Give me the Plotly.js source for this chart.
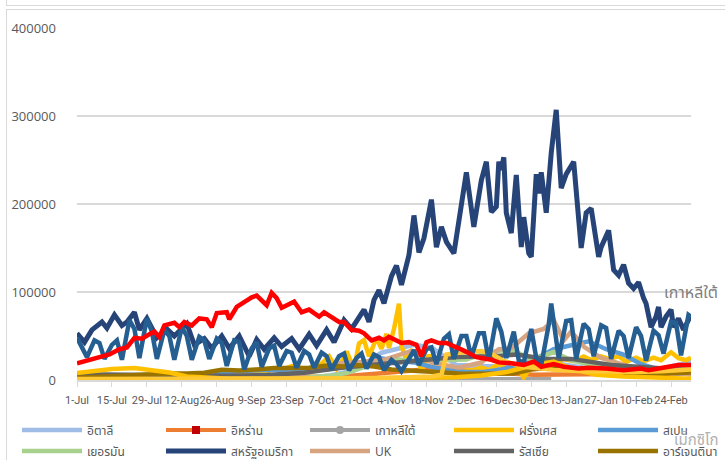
<!DOCTYPE html>
<html>
<head>
<meta charset="utf-8">
<script src="https://cdn.plot.ly/plotly-3.0.1.min.js"></script>
<style>
  html, body { margin:0; padding:0; background:#fff; overflow:hidden; }
  #wrap { position:relative; width:725px; height:460px; }
  #chart { position:absolute; left:0; top:0; width:725px; height:460px; }
  .frame { position:absolute; border:1.5px solid #D9D9D9; pointer-events:none; z-index:5; }
</style>
</head>
<body>
<div id="wrap">
  <div id="chart"></div>
  <div class="frame" style="left:6px; top:-20px; width:800px; height:24px;"></div>
  <div class="frame" style="left:6px; top:9px; width:800px; height:500px;"></div>
</div>
<script>
// ---------- DATA ----------
const itDates = ["2020-07-01","2020-08-15","2020-09-01","2020-09-30","2020-10-10","2020-10-20","2020-10-31","2020-11-13","2020-11-20","2020-11-30","2020-12-10","2020-12-20","2020-12-31","2021-01-08","2021-01-20","2021-01-31","2021-02-15","2021-02-28","2021-03-04"];
const itCases = [200,600,1400,1800,5000,11000,31000,40000,37000,17000,16000,15000,23000,19000,14000,12000,10000,18000,22000];

const irDates = ["2020-07-01","2020-07-31","2020-08-31","2020-09-30","2020-10-15","2020-10-31","2020-11-15","2020-11-25","2020-12-05","2020-12-15","2020-12-31","2021-01-15","2021-01-31","2021-02-15","2021-02-28","2021-03-04"];
const irCases = [2500,2600,1900,3600,4000,7800,12000,13800,11500,8000,6100,6200,6600,7600,7600,7600];

const krDates = ["2020-07-01","2020-07-31","2020-08-15","2020-08-27","2020-09-10","2020-09-30","2020-10-15","2020-10-31","2020-11-15","2020-11-25","2020-12-05","2020-12-13","2020-12-25","2021-01-03","2021-01-07"];
const krCases = [50,40,170,440,170,110,100,130,220,580,580,1030,1240,1020,870];

const frDates = ["2020-07-01","2020-07-10","2020-07-20","2020-07-31","2020-08-07","2020-08-14","2020-08-21","2020-08-28","2020-09-04","2020-09-06","2020-09-11","2020-09-13","2020-09-18","2020-09-20","2020-09-25","2020-10-02","2020-10-07","2020-10-10","2020-10-13","2020-10-16","2020-10-17","2020-10-20","2020-10-22","2020-10-24","2020-10-26","2020-10-29","2020-10-31","2020-11-02","2020-11-03","2020-11-05","2020-11-07","2020-11-08","2020-11-10","2020-11-12","2020-11-14","2020-11-16","2020-11-19","2020-11-21","2020-11-24","2020-11-27","2020-11-30","2020-12-03","2020-12-06","2020-12-10","2020-12-13","2020-12-17","2020-12-20","2020-12-24","2020-12-27","2020-12-31","2021-01-05","2021-01-08","2021-01-12","2021-01-16","2021-01-20","2021-01-23","2021-01-27","2021-01-30","2021-02-03","2021-02-06","2021-02-10","2021-02-13","2021-02-17","2021-02-20","2021-02-24","2021-02-27","2021-03-02","2021-03-04"];
const frCases = [600,700,900,1300,2300,2700,4600,7300,8900,7000,9800,7100,13200,10500,15800,12000,18700,26900,12900,25000,32400,13200,41600,45400,26800,47600,35600,52500,36400,58000,86800,38600,22200,33200,32100,9400,28400,17900,9100,13600,4000,11200,11000,14000,11500,18000,12700,15800,3100,20000,20000,20800,23800,21400,26800,22800,26900,24100,27000,20600,25400,21200,25400,22400,31500,24900,22600,25300];

const esDates = ["2020-07-01","2020-07-15","2020-07-31","2020-08-14","2020-08-28","2020-09-11","2020-09-25","2020-10-09","2020-10-23","2020-10-30","2020-11-06","2020-11-13","2020-11-20","2020-11-27","2020-12-04","2020-12-11","2020-12-18","2020-12-29","2021-01-08","2021-01-15","2021-01-22","2021-01-29","2021-02-05","2021-02-12","2021-02-19","2021-02-26","2021-03-04"];
const esCases = [1000,2000,4000,6000,9000,11000,12000,12000,18000,25000,22000,20000,15000,11000,9000,9000,12000,20000,35000,40000,44000,35000,29000,18000,12000,8000,7000];

const deDates = ["2020-07-01","2020-07-31","2020-08-15","2020-08-31","2020-09-15","2020-09-30","2020-10-10","2020-10-17","2020-10-24","2020-10-30","2020-11-06","2020-11-13","2020-11-20","2020-11-27","2020-12-04","2020-12-11","2020-12-18","2020-12-24","2020-12-30","2021-01-08","2021-01-15","2021-01-22","2021-01-29","2021-02-05","2021-02-12","2021-02-19","2021-02-26","2021-03-04"];
const deCases = [500,900,1400,1200,1900,2500,4700,7800,14700,19000,23500,22000,23600,22800,23400,29900,33800,32200,22500,31800,22400,17900,14000,12900,10200,9100,11800,11900];

const usDates = ["2020-07-01","2020-07-04","2020-07-07","2020-07-11","2020-07-13","2020-07-16","2020-07-19","2020-07-21","2020-07-24","2020-07-26","2020-07-29","2020-08-02","2020-08-06","2020-08-09","2020-08-14","2020-08-17","2020-08-21","2020-08-24","2020-08-28","2020-08-31","2020-09-04","2020-09-08","2020-09-11","2020-09-14","2020-09-18","2020-09-21","2020-09-25","2020-09-28","2020-10-02","2020-10-05","2020-10-09","2020-10-12","2020-10-16","2020-10-19","2020-10-24","2020-10-26","2020-10-28","2020-10-30","2020-11-01","2020-11-04","2020-11-06","2020-11-08","2020-11-11","2020-11-13","2020-11-15","2020-11-17","2020-11-20","2020-11-22","2020-11-24","2020-11-26","2020-11-29","2020-12-04","2020-12-07","2020-12-10","2020-12-12","2020-12-14","2020-12-16","2020-12-17","2020-12-18","2020-12-19","2020-12-20","2020-12-22","2020-12-24","2020-12-26","2020-12-27","2020-12-29","2020-12-30","2021-01-01","2021-01-02","2021-01-03","2021-01-05","2021-01-07","2021-01-09","2021-01-11","2021-01-13","2021-01-14","2021-01-16","2021-01-19","2021-01-21","2021-01-23","2021-01-26","2021-01-27","2021-01-30","2021-02-01","2021-02-03","2021-02-05","2021-02-07","2021-02-09","2021-02-11","2021-02-13","2021-02-14","2021-02-16","2021-02-18","2021-02-19","2021-02-20","2021-02-22","2021-02-24","2021-02-25","2021-02-27","2021-03-01","2021-03-04"];
const usCases = [53000,43000,57000,66000,59000,74000,62000,66000,77000,57000,70000,48000,58000,50000,64000,40000,47000,36000,50000,36000,50000,27000,46000,35000,48000,38000,47000,35000,52000,39000,57000,43000,68000,58000,80000,66000,91000,102000,87000,118000,130000,108000,142000,187000,145000,161000,205000,151000,174000,157000,144000,236000,174000,227000,248000,191000,197000,248000,239000,253000,190000,167000,233000,151000,185000,144000,140000,234000,212000,236000,190000,258000,307000,218000,234000,239000,248000,150000,190000,195000,140000,151000,170000,125000,119000,131000,110000,104000,111000,93000,87000,60000,72000,83000,60000,72000,80000,60000,70000,57000,74000];

const ukDates = ["2020-07-01","2020-08-01","2020-09-01","2020-09-15","2020-09-30","2020-10-15","2020-10-31","2020-11-12","2020-11-20","2020-12-01","2020-12-10","2020-12-17","2020-12-22","2020-12-29","2020-12-31","2021-01-04","2021-01-08","2021-01-12","2021-01-15","2021-01-20","2021-01-27","2021-02-03","2021-02-10","2021-02-17","2021-02-24","2021-03-04"];
const ukCases = [700,1000,1500,3500,7000,19000,22000,33000,20000,14000,20000,35000,36000,53000,55000,58000,68000,45000,55000,38000,25000,19000,13000,12000,9000,6000];

const ruDates = ["2020-07-01","2020-07-31","2020-08-31","2020-09-15","2020-09-30","2020-10-15","2020-10-31","2020-11-15","2020-11-30","2020-12-15","2020-12-24","2021-01-05","2021-01-15","2021-01-31","2021-02-15","2021-03-04"];
const ruCases = [6600,5500,4900,5700,8200,14000,18000,22000,26000,27000,29000,24000,24000,17000,14000,11000];

const arDates = ["2020-07-01","2020-07-08","2020-07-15","2020-07-22","2020-07-31","2020-08-07","2020-08-14","2020-08-21","2020-08-28","2020-09-04","2020-09-11","2020-09-18","2020-09-25","2020-10-02","2020-10-09","2020-10-16","2020-10-21","2020-10-28","2020-11-04","2020-11-11","2020-11-18","2020-11-25","2020-12-02","2020-12-09","2020-12-16","2020-12-23","2020-12-30","2021-01-06","2021-01-13","2021-01-20","2021-01-27","2021-02-03","2021-02-10","2021-02-17","2021-02-24","2021-03-04"];
const arCases = [2600,3600,4200,5800,6000,7300,7400,8200,11700,10900,12000,13500,13700,14000,16400,15400,17100,15300,12000,11100,9400,8500,7000,7500,7100,7300,11800,13800,12900,10500,8800,7300,6300,6000,7800,8400];

// series drawn in the chart whose legend rows are cut off in the reference
const zaDates = ["2020-07-01","2020-07-08","2020-07-15","2020-07-24","2020-07-31","2020-08-07","2020-08-14","2020-08-21","2020-08-31","2020-09-30","2020-10-31","2020-11-30","2020-12-10","2020-12-20","2020-12-31","2021-01-08","2021-01-15","2021-01-25","2021-02-05","2021-02-20","2021-03-04"];
const zaCases = [8000,10000,12500,13500,11000,8500,4000,3000,1500,1000,1500,3000,5000,9000,17000,21000,13000,6000,4000,2000,1500];

const trDates = ["2020-07-01","2020-07-31","2020-08-31","2020-09-30","2020-10-31","2020-11-20","2020-11-24","2020-11-26","2020-12-01","2020-12-05","2020-12-10","2020-12-14","2020-12-18","2020-12-22","2020-12-27","2020-12-31","2021-01-08","2021-01-20","2021-01-31","2021-02-10","2021-02-20","2021-03-04"];
const trCases = [1200,1000,1500,1700,2400,4000,6000,29000,31000,32000,33000,30000,23000,19000,15000,14000,11500,10000,9000,9000,10000,12000];

const brDates = ["2020-07-01","2020-07-05","2020-07-08","2020-07-10","2020-07-12","2020-07-15","2020-07-17","2020-07-19","2020-07-22","2020-07-24","2020-07-26","2020-07-29","2020-07-31","2020-08-02","2020-08-05","2020-08-07","2020-08-09","2020-08-12","2020-08-14","2020-08-16","2020-08-19","2020-08-21","2020-08-23","2020-08-26","2020-08-28","2020-08-30","2020-09-02","2020-09-04","2020-09-06","2020-09-09","2020-09-11","2020-09-13","2020-09-16","2020-09-18","2020-09-20","2020-09-23","2020-09-25","2020-09-27","2020-09-30","2020-10-02","2020-10-04","2020-10-07","2020-10-09","2020-10-11","2020-10-14","2020-10-16","2020-10-18","2020-10-21","2020-10-23","2020-10-25","2020-10-28","2020-10-30","2020-11-01","2020-11-04","2020-11-06","2020-11-08","2020-11-11","2020-11-13","2020-11-15","2020-11-18","2020-11-20","2020-11-22","2020-11-25","2020-11-27","2020-11-29","2020-12-02","2020-12-04","2020-12-06","2020-12-09","2020-12-11","2020-12-13","2020-12-16","2020-12-18","2020-12-20","2020-12-23","2020-12-25","2020-12-27","2020-12-30","2021-01-01","2021-01-03","2021-01-06","2021-01-07","2021-01-10","2021-01-13","2021-01-15","2021-01-17","2021-01-20","2021-01-22","2021-01-24","2021-01-27","2021-01-29","2021-01-31","2021-02-03","2021-02-05","2021-02-07","2021-02-10","2021-02-12","2021-02-14","2021-02-17","2021-02-19","2021-02-21","2021-02-24","2021-02-26","2021-02-28","2021-03-03","2021-03-04"];
const brCases = [48000,26000,45000,42000,24000,40000,45000,23000,68000,58000,25000,70000,55000,24000,57000,50000,23000,60000,50000,23000,49000,45000,24000,47000,42000,16000,45000,43000,12000,36000,43000,15000,36000,39000,16000,33000,31000,14000,33000,29000,14000,31000,27000,12000,27000,30000,11000,25000,30000,13000,29000,26000,11000,23000,18000,10000,24000,34000,17000,35000,37000,18000,47000,52000,24000,50000,50000,26000,53000,53000,22000,70000,55000,25000,55000,22000,20000,58000,25000,17000,63000,87000,25000,67000,68000,24000,64000,58000,27000,62000,59000,24000,56000,50000,25000,60000,50000,22000,56000,51000,30000,66000,65000,28000,74000,72000];

const inDates = ["2020-07-01","2020-07-07","2020-07-11","2020-07-14","2020-07-18","2020-07-21","2020-07-24","2020-07-27","2020-07-30","2020-08-01","2020-08-03","2020-08-05","2020-08-09","2020-08-11","2020-08-13","2020-08-16","2020-08-19","2020-08-22","2020-08-24","2020-08-26","2020-08-30","2020-08-31","2020-09-03","2020-09-06","2020-09-09","2020-09-11","2020-09-13","2020-09-15","2020-09-17","2020-09-19","2020-09-21","2020-09-23","2020-09-26","2020-09-29","2020-10-02","2020-10-04","2020-10-06","2020-10-08","2020-10-11","2020-10-14","2020-10-16","2020-10-19","2020-10-22","2020-10-24","2020-10-27","2020-10-30","2020-11-01","2020-11-03","2020-11-06","2020-11-08","2020-11-11","2020-11-14","2020-11-16","2020-11-18","2020-11-20","2020-11-23","2020-11-26","2020-11-28","2020-12-01","2020-12-04","2020-12-08","2020-12-14","2020-12-17","2020-12-22","2020-12-27","2020-12-31","2021-01-03","2021-01-08","2021-01-12","2021-01-18","2021-01-22","2021-01-29","2021-02-05","2021-02-12","2021-02-15","2021-02-19","2021-02-24","2021-02-27","2021-03-04"];
const inCases = [19000,24000,27000,29000,35000,37000,48000,47000,52000,55000,49000,62000,65000,60000,66000,62000,70000,69000,60000,76000,77000,69000,83000,89000,94000,96000,91000,85000,99000,93000,82000,85000,89000,77000,80000,76000,72000,77000,72000,66000,66000,57000,56000,53000,45000,48000,45000,49000,45000,42000,43000,40000,27000,43000,45000,42000,42000,40000,36000,32000,26000,23000,20000,19000,17000,21000,15000,18000,15000,13000,14000,13000,11000,13000,11000,13000,16000,17000,17000];

// names, colours, tick labels
const names = ["อิตาลี","อิหร่าน","เกาหลีใต้","ฝรั่งเศส","สเปน","เยอรมัน","สหรัฐอเมริกา","UK","รัสเซีย","อาร์เจนตินา"];
const colors = ["#9FBCE6","#ED7D31","#A5A5A5","#FFC000","#5B9BD5","#A9D18E","#264478","#D6A481","#636363","#997300"];
const hiddenNames = ["แอฟริกาใต้","ตุรกี","บราซิล","อินเดีย"];
const hiddenColors = ["#FFC000","#FFC935","#255E91","#FF0000"];
const yTicks = [0,100000,200000,300000,400000];
const labelSK = "เกาหลีใต้";
const labelMX = "เม็กซิโก";

// ---------- BUILD ----------
const FONT = "'Noto Sans Thai', 'Noto Sans', 'Open Sans', sans-serif";
const TICKFONT = "Roboto, 'Open Sans', sans-serif";
const shownX = [itDates, irDates, krDates, frDates, esDates, deDates, usDates, ukDates, ruDates, arDates];
const shownY = [itCases, irCases, krCases, frCases, esCases, deCases, usCases, ukCases, ruCases, arCases];
const hidX = [zaDates, trDates, brDates, inDates];
const hidY = [zaCases, trCases, brCases, inCases];

const traces = [];
const legendKeys = names.map((n, i) => i === 0 ? 'legend' : 'legend' + (i + 1));
names.forEach((n, i) => {
  const hasMarker = (i === 1 || i === 2);
  traces.push({
    type: 'scatter', mode: 'lines', name: n,
    x: shownX[i], y: shownY[i],
    line: { color: colors[i], width: i === 6 ? 5 : 4.5 },
    showlegend: !hasMarker, legend: legendKeys[i], hoverinfo: 'skip'
  });
});
hiddenNames.forEach((n, i) => {
  traces.push({
    type: 'scatter', mode: 'lines', name: n,
    x: hidX[i], y: hidY[i],
    line: { color: hiddenColors[i], width: 4.5 },
    showlegend: false, hoverinfo: 'skip'
  });
});
// legend-only entries for the two series whose legend shows a marker
[1, 2].forEach(i => {
  traces.push({
    type: 'scatter', mode: 'lines+markers', name: names[i],
    x: [null], y: [null],
    line: { color: colors[i], width: 4 },
    marker: i === 1 ? { symbol: 'square', size: 8, color: '#C00000' } : { symbol: 'circle', size: 8, color: colors[i] },
    showlegend: true, legend: legendKeys[i], hoverinfo: 'skip'
  });
});

const W = 725, H = 460;
const colX = [17, 161, 305, 449, 593];
const rowY = [430, 451];
const layout = {
  width: W, height: H,
  margin: { l: 77, r: 34, t: 28, b: 80 },
  paper_bgcolor: '#ffffff', plot_bgcolor: '#ffffff',
  font: { family: FONT, color: '#595959', size: 12 },
  xaxis: {
    type: 'date', range: ['2020-07-01', '2021-03-04'],
    tick0: '2020-07-01', dtick: 14 * 86400000, tickformat: '%-d-%b',
    tickangle: 0,
    showgrid: false, zeroline: false,
    showline: true, linecolor: '#D9D9D9', linewidth: 1.5,
    ticks: 'outside', ticklen: 5, tickcolor: '#D9D9D9', tickwidth: 1,
    ticklabelstandoff: 4,
    tickfont: { family: TICKFONT, size: 11, color: '#595959' }
  },
  yaxis: {
    range: [0, 400000], tickvals: yTicks, tickformat: 'd',
    showgrid: true, gridcolor: '#D9D9D9', gridwidth: 1.5,
    zeroline: false, showline: false, ticks: '',
    ticklabelstandoff: 20,
    tickfont: { family: "'Open Sans', sans-serif", size: 13, color: '#595959' }
  },
  annotations: [
    { text: labelSK, xref: 'paper', yref: 'paper', x: (662 - 77) / 614, y: (380 - 293) / 352,
      xanchor: 'left', yanchor: 'middle', showarrow: false,
      font: { family: FONT, size: 16, color: '#7F7F7F' } },
    { text: labelMX, xref: 'paper', yref: 'paper', x: (672 - 77) / 614, y: (380 - 440) / 352,
      xanchor: 'left', yanchor: 'middle', showarrow: false,
      font: { family: FONT, size: 15, color: '#B0B0B0' } }
  ],
  showlegend: true
};
legendKeys.forEach((k, i) => {
  layout[k] = {
    xref: 'container', yref: 'container',
    x: colX[i % 5] / W, y: 1 - rowY[Math.floor(i / 5)] / H,
    xanchor: 'left', yanchor: 'middle',
    orientation: 'h', itemwidth: 60,
    bgcolor: 'rgba(0,0,0,0)', borderwidth: 0,
    font: { family: FONT, size: 12, color: '#595959' },
    itemclick: false, itemdoubleclick: false
  };
});

Plotly.newPlot('chart', traces, layout, { staticPlot: true, displayModeBar: false });
</script>
</body>
</html>
